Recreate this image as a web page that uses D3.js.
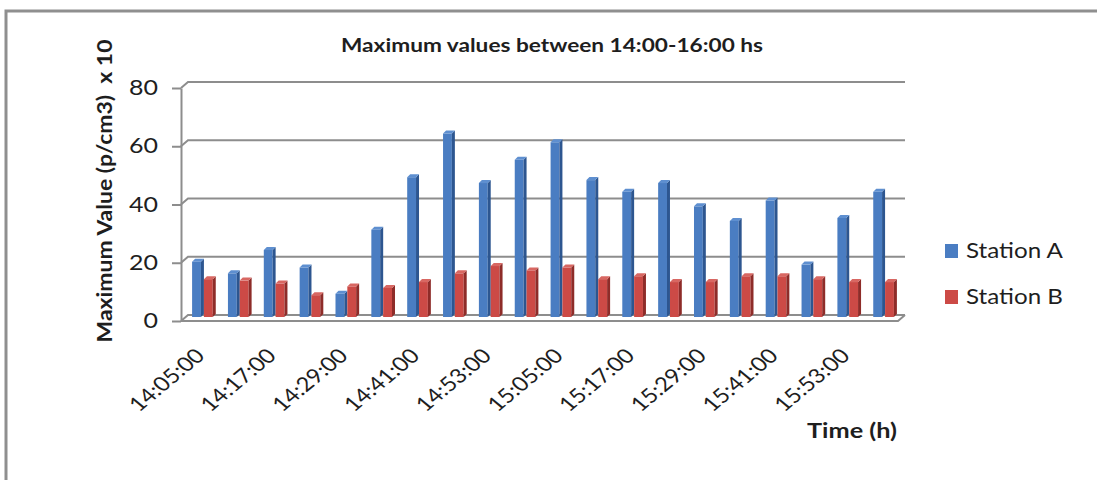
<!DOCTYPE html>
<html>
<head>
<meta charset="utf-8">
<script src="https://cdn.jsdelivr.net/npm/d3@7"></script>
<style>
  html, body { margin: 0; padding: 0; background: #fff; }
  svg { display: block; }
  text { font-family: Lato, "Open Sans", sans-serif; fill: #1e1e1e; }
</style>
</head>
<body>
<svg id="chart" width="1097" height="480"></svg>
<script>
// Sampling times (every 6 minutes)
const categories = [
  "14:05:00","14:11:00","14:17:00","14:23:00","14:29:00","14:35:00","14:41:00",
  "14:47:00","14:53:00","14:59:00","15:05:00","15:11:00","15:17:00","15:23:00",
  "15:29:00","15:35:00","15:41:00","15:47:00","15:53:00","15:59:00"
];
// Maximum particle values (p/cm3, x10)
const stationA = [19, 15, 23, 17, 8, 30, 48, 63, 46, 54, 60, 47, 43, 46, 38, 33, 40, 18, 34, 43];
const stationB = [13, 12.5, 11.5, 7.5, 10.5, 10, 12, 15, 17.5, 16, 17, 13, 14, 12, 12, 14, 14, 13, 12, 12];
const seriesNames = ["Station A", "Station B"];
const yTicks = [0, 20, 40, 60, 80];
const xTickLabels = ["14:05:00","14:17:00","14:29:00","14:41:00","14:53:00",
                     "15:05:00","15:17:00","15:29:00","15:41:00","15:53:00"];

const svg = d3.select("#chart");
const gridColor = "#8d8d8d";
const fills = {
  "Station A": { front: "#4a7dc2", side: "#2d5690", top: "#5e8fd0" },
  "Station B": { front: "#cc4a46", side: "#8e2c29", top: "#d86762" }
};

// outer frame (left and top edges)
svg.append("path")
  .attr("d", "M6,480 V11 H1097")
  .attr("fill", "none").attr("stroke", "#8f8f8f").attr("stroke-width", 3);

// pseudo-3D depth: front plane is offset from the back wall
const DX = -7, DY = 6;
const yBack = d3.scaleLinear().domain([0, 80]).range([315, 82]);
const yFront = d3.scaleLinear().domain([0, 80]).range([315 + DY, 82 + DY]);
const backLeft = 188, backRight = 905;

// back-wall gridlines + left-wall connectors
const grid = svg.append("g").attr("stroke", gridColor).attr("stroke-width", 2).attr("fill", "none");
yTicks.forEach(t => {
  grid.append("path")
    .attr("d", `M${backLeft + DX},${yBack(t) + DY} L${backLeft},${yBack(t)} H${backRight}`);
});
// floor front edge and right edge
grid.append("path")
  .attr("d", `M${backLeft + DX},${yFront(0)} H${backRight + DX} L${backRight},${yBack(0)}`);

// front y axis
const yAxis = d3.axisLeft(yFront).tickValues(yTicks).tickSize(9).tickSizeOuter(0).tickPadding(14);
const yg = svg.append("g")
  .attr("transform", `translate(${backLeft + DX},0)`)
  .call(yAxis);
yg.select(".domain").attr("stroke", gridColor).attr("stroke-width", 2);
yg.selectAll(".tick line").attr("stroke", gridColor).attr("stroke-width", 2);
yg.selectAll(".tick text")
  .style("font-family", "Lato, sans-serif")
  .attr("font-size", 21)
  .attr("fill", "#2e2e2e")
  .attr("textLength", d => String(d).length * 14.5)
  .attr("lengthAdjust", "spacingAndGlyphs");

// category bands (bars stand at mid depth)
const x = d3.scaleBand().domain(categories).range([186, 903]).paddingInner(0.34).paddingOuter(0.17);
const xs = d3.scaleBand().domain(seriesNames).range([0, x.bandwidth()]);
const depth = 3;
const baseY = yBack(0) + 2;

const rows = categories.map((c, i) => ({ c, vals: [
  { s: "Station A", v: stationA[i] },
  { s: "Station B", v: stationB[i] }
]}));

const barsG = svg.append("g");
rows.forEach(r => {
  r.vals.forEach(d => {
    const x0 = x(r.c) + xs(d.s);
    const w = xs.bandwidth() - depth;
    const yt = yBack(d.v) + 2;
    const f = fills[d.s];
    const g = barsG.append("g");
    g.append("rect").attr("x", x0).attr("y", yt).attr("width", w).attr("height", baseY - yt).attr("fill", f.front);
    g.append("path")
      .attr("d", `M${x0 + w},${yt} L${x0 + w + depth},${yt - depth} V${baseY - depth} L${x0 + w},${baseY} Z`)
      .attr("fill", f.side);
    g.append("path")
      .attr("d", `M${x0},${yt} L${x0 + depth},${yt - depth} H${x0 + w + depth} L${x0 + w},${yt} Z`)
      .attr("fill", f.top);
  });
});

// rotated time labels (every second sample)
const xl = svg.append("g");
xTickLabels.forEach(lab => {
  const cx = x(lab) + x.bandwidth() / 2 + 2;
  xl.append("text")
    .attr("transform", `translate(${cx},357) scale(1.2,1) rotate(-45)`)
    .attr("text-anchor", "end")
    .attr("font-size", 20)
    .attr("fill", "#222")
    .attr("textLength", 79)
    .attr("lengthAdjust", "spacingAndGlyphs")
    .text(lab);
});

// title
svg.append("text")
  .attr("x", 552).attr("y", 52)
  .attr("text-anchor", "middle")
  .attr("font-size", 19).attr("font-weight", "bold")
  .attr("textLength", 422).attr("lengthAdjust", "spacingAndGlyphs")
  .text("Maximum values between 14:00-16:00 hs");

// y axis title (double space kept before the multiplier)
svg.append("text")
  .attr("transform", "translate(112,191) rotate(-90)")
  .attr("text-anchor", "middle")
  .attr("font-size", 20).attr("font-weight", "bold")
  .attr("xml:space", "preserve")
  .style("white-space", "pre")
  .attr("textLength", 303).attr("lengthAdjust", "spacingAndGlyphs")
  .text("Maximum Value (p/cm3)  x 10");

// x axis title
svg.append("text")
  .attr("x", 807).attr("y", 438)
  .attr("font-size", 21).attr("font-weight", "bold")
  .attr("textLength", 90).attr("lengthAdjust", "spacingAndGlyphs")
  .text("Time (h)");

// legend
const legend = svg.append("g");
seriesNames.forEach((s, i) => {
  const y0 = 244 + i * 46;
  legend.append("rect").attr("x", 945).attr("y", y0).attr("width", 13).attr("height", 14).attr("fill", fills[s].front);
  legend.append("text")
    .attr("x", 966).attr("y", y0 + 14)
    .attr("font-size", 22)
    .attr("fill", "#2e2e2e")
    .attr("textLength", 97).attr("lengthAdjust", "spacingAndGlyphs")
    .text(s);
});
</script>
</body>
</html>
